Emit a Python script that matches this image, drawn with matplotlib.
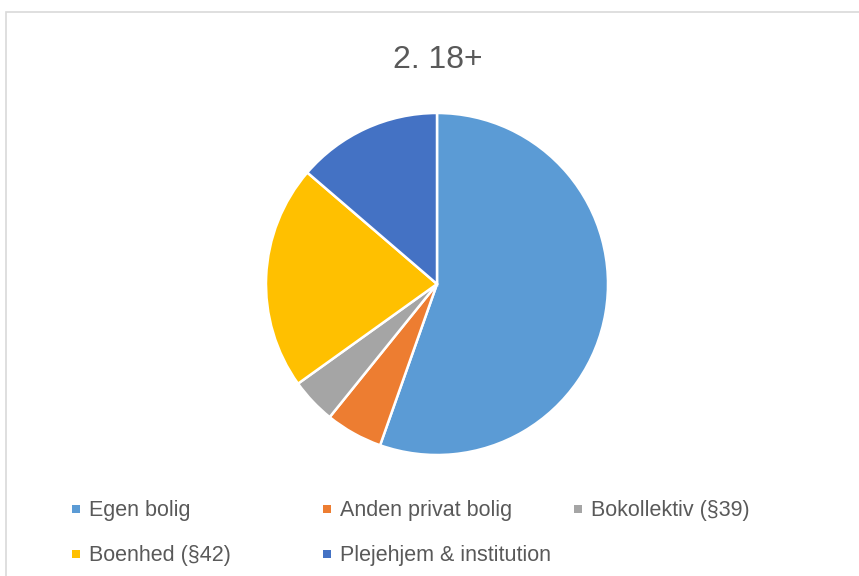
import matplotlib
matplotlib.use('Agg')
import matplotlib.pyplot as plt
from matplotlib.patches import Rectangle

plt.rcParams['font.family'] = ['Liberation Sans', 'DejaVu Sans']

# Data (share in percent)
TITLE = '2. 18+'
labels = ['Egen bolig', 'Anden privat bolig', 'Bokollektiv (§39)',
          'Boenhed (§42)', 'Plejehjem & institution']
values = [55.4, 5.4, 4.3, 21.2, 13.7]
colors = ['#5B9BD5', '#ED7D31', '#A5A5A5', '#FFC000', '#4472C4']

W, H = 859, 576
TXT = '#595959'
fig = plt.figure(figsize=(W / 100, H / 100), dpi=100)

# chart frame (cut off on right and bottom like the reference)
fig.add_artist(Rectangle((6 / W, -0.05), 1.1, (H - 12) / H + 0.05,
                         transform=fig.transFigure, fill=False,
                         edgecolor='#D9D9D9', linewidth=1.2))

ax = fig.add_axes([266 / W, (H - 455) / H, 342 / W, 342 / H])
ax.pie(values, colors=colors, startangle=90, counterclock=False,
       wedgeprops={'edgecolor': 'white', 'linewidth': 1.8})
ax.set_xlim(-1, 1)
ax.set_ylim(-1, 1)
ax.set_aspect('equal')
ax.axis('off')

fig.text(438 / W, 1 - 68 / H, TITLE, ha='center', va='baseline',
         fontsize=23, color=TXT)

# legend, three columns
col_x = [76, 327, 578]
row_y = [516, 561]
for i, (lab, c) in enumerate(zip(labels, colors)):
    x = col_x[i % 3]
    y = row_y[i // 3]
    fig.add_artist(Rectangle(((x - 4) / W, 1 - (y - 3) / H), 8 / W, 8 / H,
                             transform=fig.transFigure, facecolor=c,
                             edgecolor='none'))
    fig.text((x + 13) / W, 1 - y / H, lab, ha='left', va='baseline',
             fontsize=15.5, color=TXT)

fig.savefig('out.png', dpi=100)
